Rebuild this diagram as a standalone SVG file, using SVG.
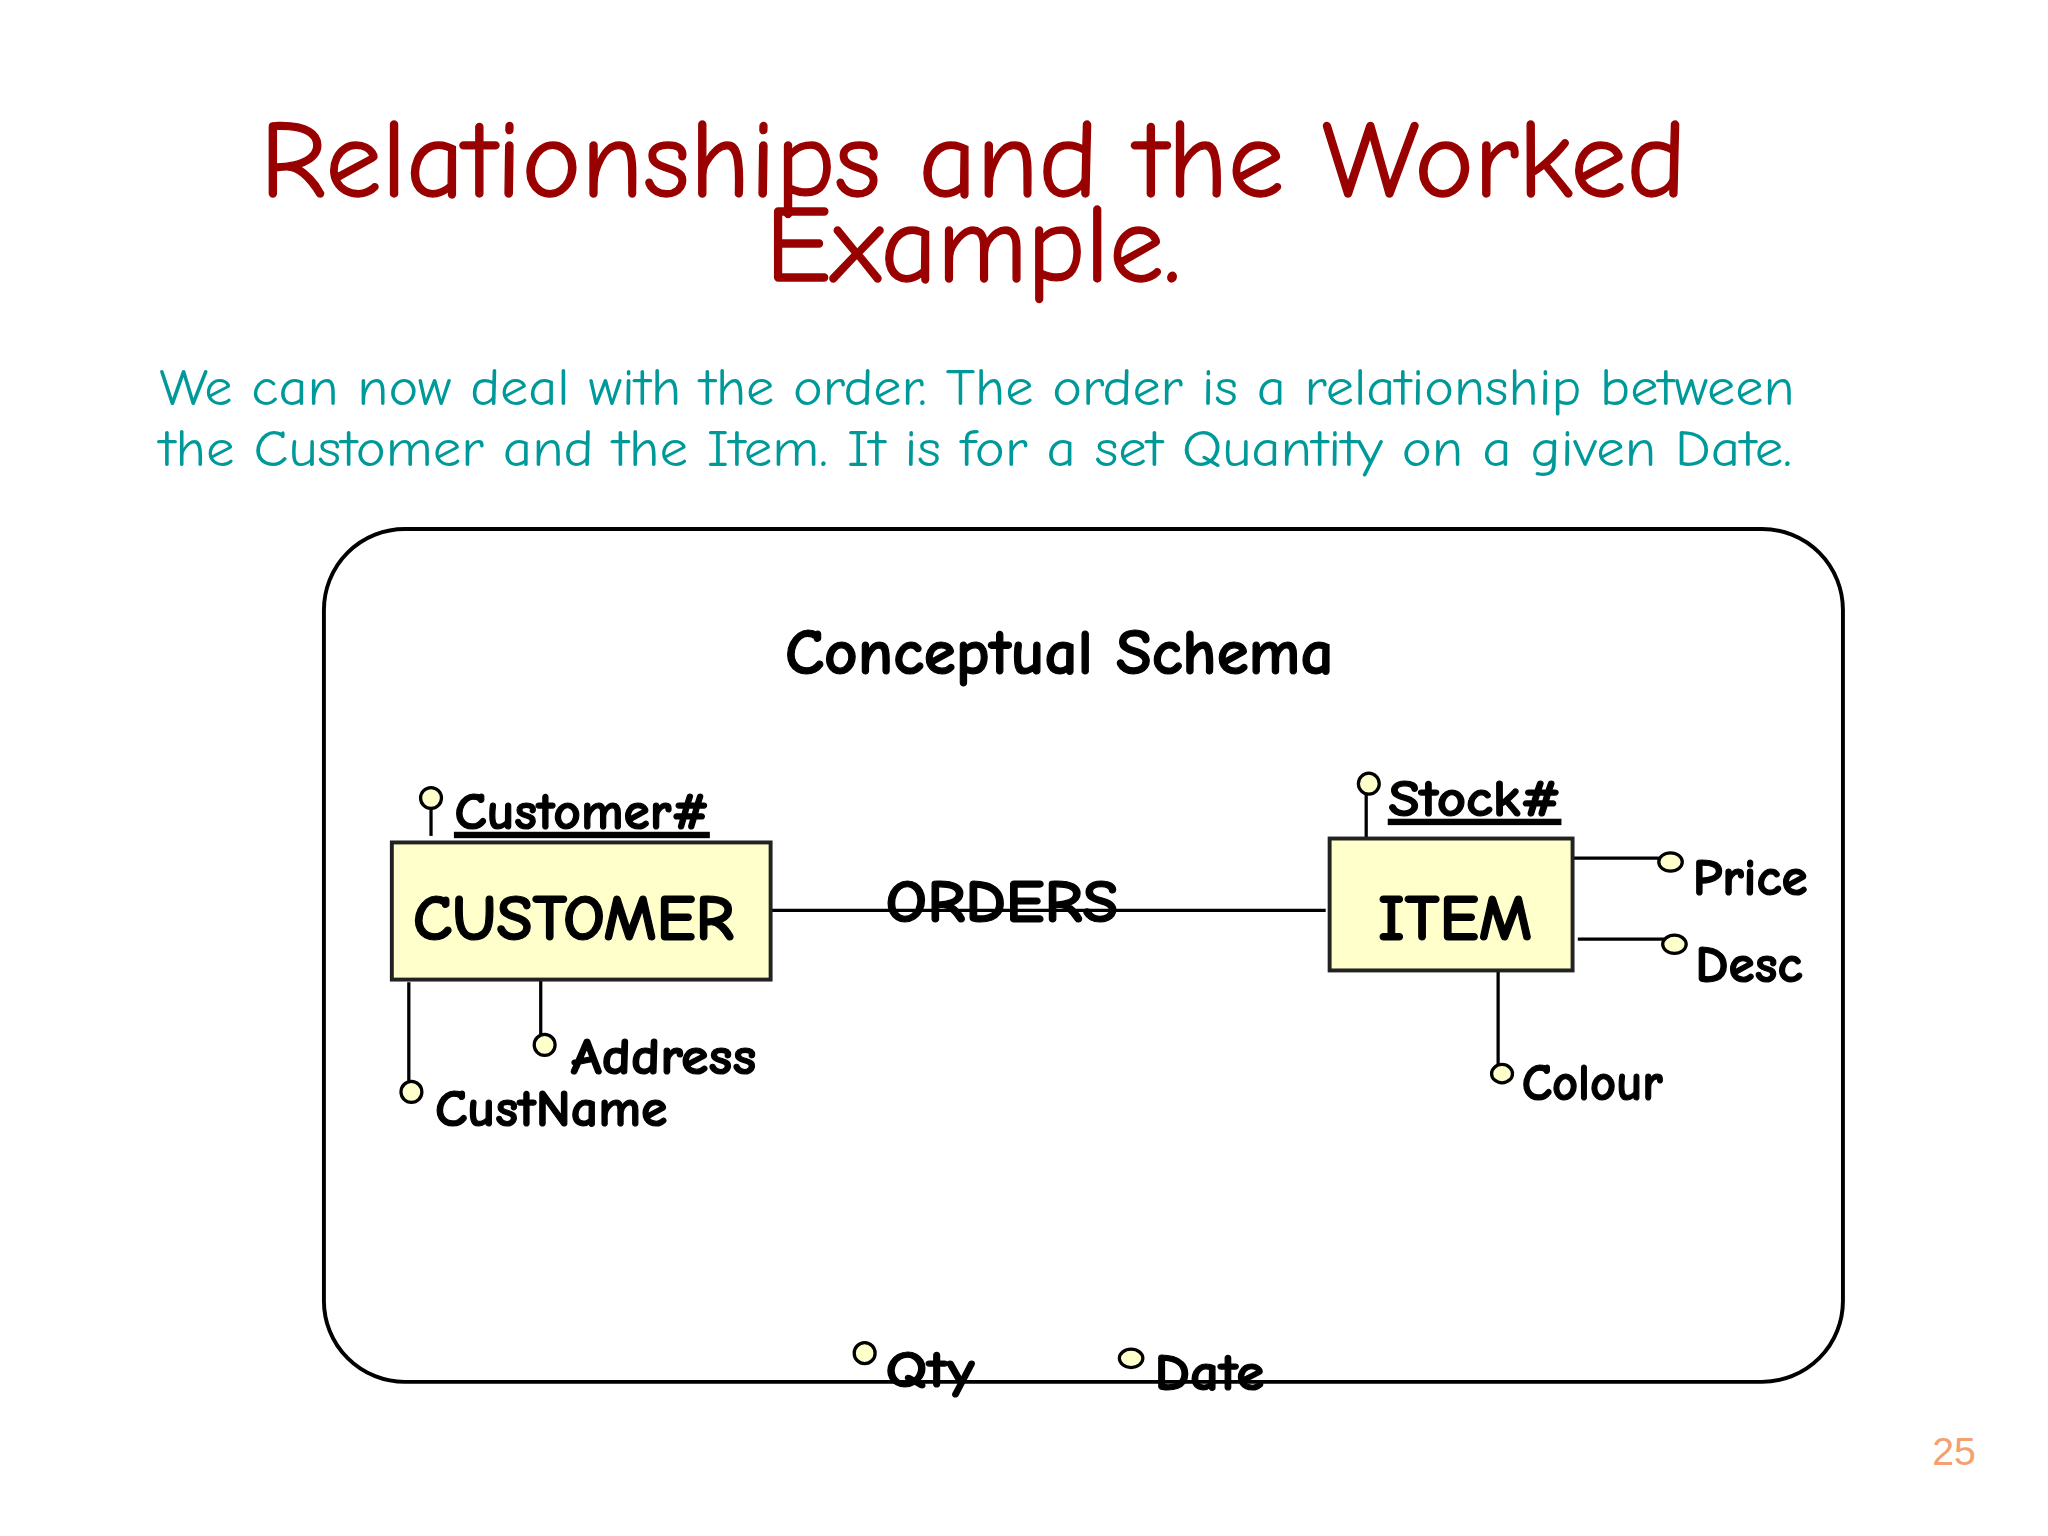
<svg xmlns="http://www.w3.org/2000/svg" width="2048" height="1536" viewBox="0 0 2048 1536">
<style>
.t{font-family:"Comic Neue","DejaVu Sans","Liberation Sans",sans-serif;font-weight:bold;fill:#000;stroke:#000;stroke-width:0.9}
.a{font-size:40px}
.n{font-size:50px}
.ln{stroke:#000;stroke-width:2.5;fill:none}
.c{fill:#ffffcc;stroke:#000;stroke-width:2.5}
.box{fill:#ffffcc;stroke:#222;stroke-width:3}
</style>
<rect width="2048" height="1536" fill="#fff"/>
<g transform="scale(1.30612)">
<g id="title" font-family="'Comic Neue','DejaVu Sans','Liberation Sans',sans-serif" fill="#990000" stroke="#990000" stroke-width="1" font-size="84" text-anchor="middle">
<text x="745" y="150" textLength="1092" lengthAdjust="spacingAndGlyphs">Relationships and the Worked</text>
<text x="745" y="215" textLength="318" lengthAdjust="spacingAndGlyphs">Example.</text>
</g>
<g id="subtitle" font-family="'Comic Neue','DejaVu Sans','Liberation Sans',sans-serif" fill="#009999" font-size="40">
<text x="122" y="310" textLength="1252" lengthAdjust="spacingAndGlyphs">We can now deal with the order. The order is a relationship between</text>
<text x="122" y="357" textLength="1250" lengthAdjust="spacingAndGlyphs">the Customer and the Item. It is for a set Quantity on a given Date.</text>
</g>
<g id="frame"><rect x="248" y="405" width="1163" height="653" rx="62" fill="none" stroke="#000" stroke-width="3"/>
<text class="t" x="601" y="516" font-size="50" textLength="420" lengthAdjust="spacingAndGlyphs">Conceptual Schema</text></g>
<g id="connectors">
<line class="ln" x1="590" y1="697" x2="1015" y2="697"/>
<line class="ln" x1="330" y1="619" x2="330" y2="640"/>
<line class="ln" x1="313" y1="752" x2="313" y2="828"/>
<line class="ln" x1="414" y1="750" x2="414" y2="792"/>
<line class="ln" x1="1046" y1="608" x2="1046" y2="642"/>
<line class="ln" x1="1204" y1="657" x2="1270" y2="657"/>
<line class="ln" x1="1208" y1="719" x2="1274" y2="719"/>
<line class="ln" x1="1147" y1="743" x2="1147" y2="815"/>
</g>
<g id="orders"><text class="t" x="678" y="706" font-size="46" textLength="178" lengthAdjust="spacingAndGlyphs">ORDERS</text></g>
<g id="customer"><rect class="box" x="300" y="645" width="290" height="105"/>
<text class="t n" x="316" y="720" textLength="246" lengthAdjust="spacingAndGlyphs">CUSTOMER</text></g>
<g id="item"><rect class="box" x="1018" y="642" width="186" height="101"/>
<text class="t n" x="1055" y="720" textLength="118" lengthAdjust="spacingAndGlyphs">ITEM</text></g>
<g id="attr-customerno"><ellipse class="c" cx="330" cy="611" rx="8" ry="8"/><text class="t a" x="348" y="635" textLength="195" lengthAdjust="spacingAndGlyphs" text-decoration="underline">Customer#</text></g>
<g id="attr-custname"><ellipse class="c" cx="315" cy="836" rx="8" ry="8"/><text class="t a" x="333" y="862" textLength="178" lengthAdjust="spacingAndGlyphs">CustName</text></g>
<g id="attr-address"><ellipse class="c" cx="417" cy="800" rx="8" ry="8"/><text class="t a" x="437" y="822" textLength="142" lengthAdjust="spacingAndGlyphs">Address</text></g>
<g id="attr-stockno"><ellipse class="c" cx="1048" cy="600" rx="8" ry="8"/><text class="t a" x="1063" y="625" textLength="132" lengthAdjust="spacingAndGlyphs" text-decoration="underline">Stock#</text></g>
<g id="attr-price"><ellipse class="c" cx="1279" cy="660" rx="9" ry="7"/><text class="t a" x="1296" y="685" textLength="88" lengthAdjust="spacingAndGlyphs">Price</text></g>
<g id="attr-desc"><ellipse class="c" cx="1282" cy="723" rx="9" ry="7"/><text class="t a" x="1298" y="752" textLength="82" lengthAdjust="spacingAndGlyphs">Desc</text></g>
<g id="attr-colour"><ellipse class="c" cx="1150" cy="822" rx="8" ry="7"/><text class="t a" x="1165" y="842" textLength="108" lengthAdjust="spacingAndGlyphs">Colour</text></g>
<g id="attr-qty"><ellipse class="c" cx="662" cy="1036" rx="8" ry="8"/><text class="t a" x="678" y="1062" textLength="68" lengthAdjust="spacingAndGlyphs">Qty</text></g>
<g id="attr-date"><ellipse class="c" cx="866" cy="1040" rx="9" ry="7"/><text class="t a" x="884" y="1064" textLength="84" lengthAdjust="spacingAndGlyphs">Date</text></g>
<text x="1496" y="1122" font-family="'Liberation Sans',sans-serif" font-size="30" fill="#f4a070" text-anchor="middle">25</text>
</g>
</svg>
